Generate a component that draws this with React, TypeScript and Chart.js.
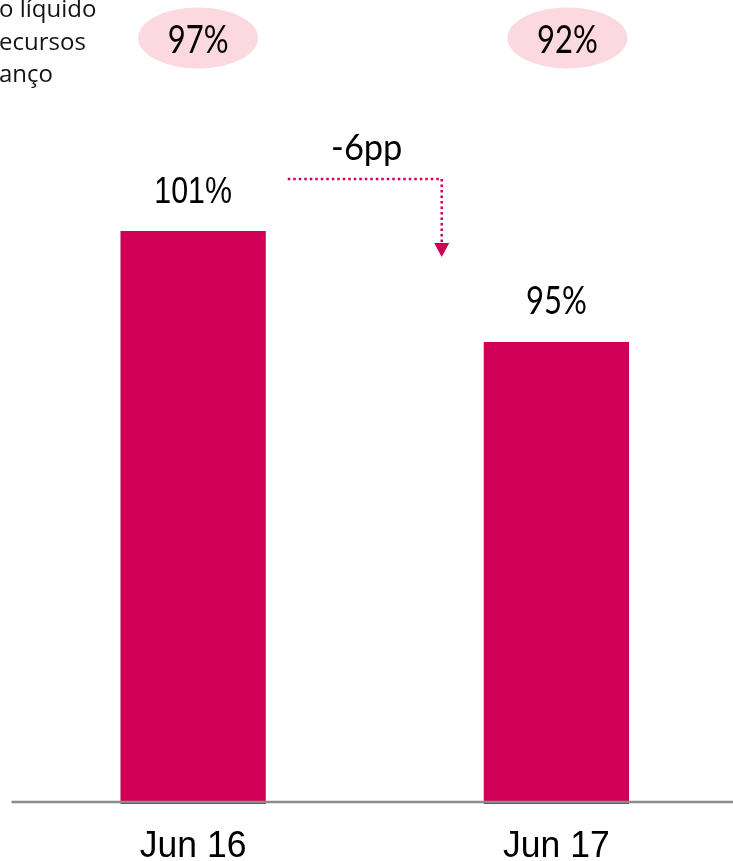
import React, { useEffect, useRef } from "react";
import { Chart, registerables } from "chart.js";

Chart.register(...registerables);

const categories = ["Jun 16", "Jun 17"];
const values = [101, 95];
const valueLabels = ["101%", "95%"];
const secondaryLabels = ["97%", "92%"];
const changeLabel = "-6pp";
const sideTextLines = ["o líquido", "ecursos", "anço"];

const BAR_COLOR = "#d10057";
const PILL_COLOR = "#fcd9e1";
const AXIS_COLOR = "#8c8c8c";
const ARIAL = '"Liberation Sans", Arial, sans-serif';
const HUMAN = 'Lato, "DejaVu Sans Condensed", sans-serif';
const SIDE = '"Open Sans", "DejaVu Sans Condensed", sans-serif';

function drawText(
  ctx: CanvasRenderingContext2D,
  text: string,
  x: number,
  y: number,
  font: string,
  sx: number,
  align: CanvasTextAlign = "center"
) {
  ctx.save();
  ctx.font = font;
  ctx.textAlign = align;
  ctx.textBaseline = "alphabetic";
  ctx.translate(x, y);
  ctx.scale(sx, 1);
  ctx.fillText(text, 0, 0);
  ctx.restore();
}

const overlay = {
  id: "overlay",
  afterDatasetsDraw(chart: any) {
    const ctx = chart.ctx as CanvasRenderingContext2D;
    const xs = chart.scales.x;
    const ys = chart.scales.y;
    const meta = chart.getDatasetMeta(0);
    const W = chart.width;
    ctx.save();

    // baseline
    const baseY = ys.getPixelForValue(ys.min) - 2;
    ctx.strokeStyle = AXIS_COLOR;
    ctx.lineWidth = 2.5;
    ctx.beginPath();
    ctx.moveTo(chart.chartArea.left, baseY);
    ctx.lineTo(W, baseY);
    ctx.stroke();

    // category labels
    ctx.fillStyle = "#000";
    categories.forEach((c, i) => {
      drawText(ctx, c, xs.getPixelForValue(i), 857, `37px ${ARIAL}`, 0.96);
    });

    // value labels
    const valueFonts = [`37px ${ARIAL}`, `38px ${HUMAN}`];
    const valueScale = [0.82, 0.815];
    meta.data.forEach((bar: any, i: number) => {
      ctx.fillStyle = "#000";
      drawText(ctx, valueLabels[i], bar.x, bar.y - 28, valueFonts[i], valueScale[i]);
    });

    // pills
    const pillOffsets = [5, 11];
    meta.data.forEach((bar: any, i: number) => {
      const cx = bar.x + pillOffsets[i];
      ctx.fillStyle = PILL_COLOR;
      ctx.beginPath();
      ctx.ellipse(cx, 38, 60, 30.5, 0, 0, Math.PI * 2);
      ctx.fill();
      ctx.fillStyle = "#000";
      drawText(ctx, secondaryLabels[i], cx, 53, `38px ${HUMAN}`, 0.815);
    });

    // side text
    ctx.fillStyle = "#141414";
    const lineY = [17, 49.5, 82];
    sideTextLines.forEach((t, i) => drawText(ctx, t, -1, lineY[i], `24px ${SIDE}`, 1, "left"));

    // change arrow
    const b0 = meta.data[0];
    const b1 = meta.data[1];
    const startX = b0.x + b0.width / 2 + 22;
    const cornerX = b1.x - b1.width / 2 - 42;
    const lineYY = b0.y - 52;
    const tipY = b1.y - 85;
    ctx.strokeStyle = BAR_COLOR;
    ctx.lineWidth = 2.5;
    ctx.setLineDash([2.5, 3]);
    ctx.beginPath();
    ctx.moveTo(startX, lineYY);
    ctx.lineTo(cornerX, lineYY);
    ctx.lineTo(cornerX, tipY - 14);
    ctx.stroke();
    ctx.setLineDash([]);
    ctx.fillStyle = BAR_COLOR;
    ctx.beginPath();
    ctx.moveTo(cornerX - 7.5, tipY - 14);
    ctx.lineTo(cornerX + 7.5, tipY - 14);
    ctx.lineTo(cornerX, tipY);
    ctx.closePath();
    ctx.fill();

    ctx.fillStyle = "#000";
    drawText(ctx, changeLabel, (startX + cornerX) / 2 + 2, 160, `37px ${HUMAN}`, 0.93);

    ctx.restore();
  },
};

export default function App() {
  const ref = useRef<HTMLCanvasElement | null>(null);
  useEffect(() => {
    document.body.style.margin = "0";
    document.body.style.overflow = "hidden";
    const canvas = ref.current!;
    const chart = new Chart(canvas, {
      type: "bar",
      data: {
        labels: categories,
        datasets: [
          {
            data: values,
            backgroundColor: BAR_COLOR,
            borderWidth: 0,
            barPercentage: 0.4,
            categoryPercentage: 1,
          },
        ],
      },
      options: {
        animation: false,
        responsive: false,
        maintainAspectRatio: false,
        layout: { padding: { left: 11.5, right: 0, top: 0, bottom: 57 } },
        plugins: { legend: { display: false }, tooltip: { enabled: false } },
        scales: {
          x: { type: "category", display: false, offset: true },
          y: { display: false, min: 70, max: 113.5 },
        },
      },
      plugins: [overlay],
    });
    return () => chart.destroy();
  }, []);
  return (
    <div style={{ width: 733, height: 861, overflow: "hidden" }}>
      <canvas ref={ref} width={738} height={861} style={{ display: "block", width: 738, height: 861 }} />
    </div>
  );
}
